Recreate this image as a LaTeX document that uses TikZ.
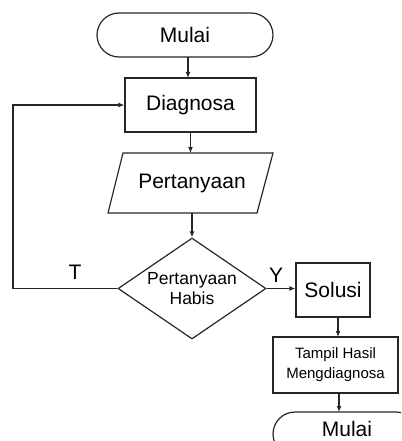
\documentclass[tikz,border=0pt]{standalone}
\usepackage{fontspec}
\setmainfont{Liberation Sans}
\usetikzlibrary{shapes.geometric,shapes.misc,arrows.meta,calc}
\begin{document}
\begin{tikzpicture}[x=1pt,y=-1pt,
  ln/.style={draw=black!85,line width=1.2pt},
  arr/.style={ln,-{Latex[length=6pt,width=5pt]}},
  term/.style={ln,rounded rectangle,minimum width=176pt,minimum height=44pt,inner sep=0pt,font=\fontsize{21}{23}\selectfont},
  proc/.style={ln,rectangle,inner sep=0pt,font=\fontsize{21}{23}\selectfont},
  lbl/.style={font=\fontsize{21}{23}\selectfont,inner sep=0pt}]
\useasboundingbox (0,0) rectangle (401,441);
\clip (0,0) rectangle (401,441);
\node[term] (start) at (185,35) {Mulai};
\node[proc,minimum width=131pt,minimum height=54pt] (diag) at (190.5,105) {Diagnosa};
\node[inner sep=0pt,minimum width=165pt,minimum height=60pt,font=\fontsize{21}{23}\selectfont] (quest) at (192,183) {Pertanyaan};
\draw[ln] (123,153) -- (273,153) -- (257,213) -- (108,213) -- cycle;
\node[ln,diamond,minimum width=148pt,minimum height=101pt,inner sep=0pt,aspect=1.46,align=center,font=\fontsize{17.5}{19.5}\selectfont] (dec) at (192,288.5) {Pertanyaan\\Habis};
\node[proc,minimum width=74pt,minimum height=54pt] (sol) at (333,290) {Solusi};
\node[proc,minimum width=125pt,minimum height=56pt,align=center,font=\fontsize{15}{20}\selectfont] (show) at (335.5,365) {Tampil Hasil\\Mengdiagnosa};
\node[ln,rounded rectangle,minimum width=145pt,minimum height=44pt,inner sep=0pt] (end) at (345.5,434) {};
\node[lbl] (endtxt) at (347,429) {Mulai};
\coordinate (lc) at (13,105);
\coordinate (a1) at (188,57);
\coordinate (a1e) at (188,78);
\coordinate (a2) at (190.5,132);
\coordinate (a2e) at (190.5,153);
\coordinate (a3) at (192,213);
\coordinate (a4) at (338,317);
\coordinate (a4e) at (338,337);
\coordinate (a5) at (339,393);
\coordinate (a5e) at (339,412);
\coordinate (lb) at (13,288.5);
\draw[arr] (a1) -- (a1e);
\draw[arr] (a2) -- (a2e);
\draw[arr] (a3) -- (dec.north);
\draw[arr] (dec.west) -- (lb) -- (lc) -- (diag.west);
\draw[arr] (dec.east) -- (dec.east -| sol.west);
\draw[arr] (a4) -- (a4e);
\draw[arr] (a5) -- (a5e);
\node[lbl] (tl) at (75,272) {T};
\node[lbl] (yl) at (276,275) {Y};
\end{tikzpicture}
\end{document}
